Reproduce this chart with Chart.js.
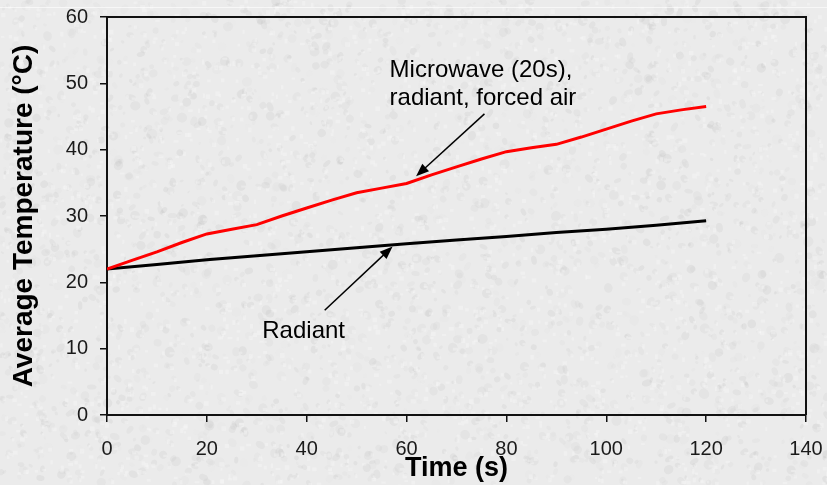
<!DOCTYPE html>
<html>
<head>
<meta charset="utf-8">
<script src="https://cdn.jsdelivr.net/npm/chart.js@4.4.1/dist/chart.umd.min.js"></script>
<style>
  html, body { margin: 0; padding: 0; background: #e6e6e6; }
  #wrap { position: relative; width: 827px; height: 485px; }
  #fondo, #grafico { position: absolute; left: 0; top: 0; }
</style>
</head>
<body>
<div id="wrap">
  <canvas id="fondo" width="827" height="485"></canvas>
  <canvas id="grafico" width="827" height="485"></canvas>
</div>
<script>
// Datos
const tiemposMicroondas = [0, 5, 10, 15, 20, 25, 30, 35, 40, 45, 50, 55, 60, 65, 70, 75, 80, 85, 90, 95, 100, 105, 110, 115, 120];
const tempMicroondas = [22.0, 23.3, 24.6, 26.0, 27.3, 28.0, 28.7, 30.0, 31.2, 32.4, 33.5, 34.2, 34.9, 36.2, 37.4, 38.6, 39.7, 40.3, 40.8, 41.9, 43.1, 44.3, 45.4, 46.0, 46.5];
const tiemposRadiante = [0, 10, 20, 30, 40, 50, 60, 70, 80, 90, 100, 110, 120];
const tempRadiante = [22.0, 22.7, 23.4, 24.0, 24.6, 25.2, 25.8, 26.4, 26.9, 27.5, 28.0, 28.6, 29.3];
const nombresSeries = ['Microwave (20s), radiant, forced air', 'Radiant'];
const tituloX = 'Time (s)';
const tituloY = 'Average Temperature (°C)';
const notaMicroondas = ['Microwave (20s),', 'radiant, forced air'];
const notaRadiante = 'Radiant';

// Fondo tipo granito (patrón determinista)
function pintarFondo() {
    var c = document.getElementById('fondo').getContext('2d');
    c.fillStyle = '#ebebeb';
    c.fillRect(0, 0, 827, 485);
    var s = 12345;
    function sig() { s = (s * 1103515245 + 12345) & 0x7fffffff; return s / 0x7fffffff; }
    for (var i = 0; i < 3200; i++) {
        var x = sig() * 827, y = sig() * 485, r = 1.5 + sig() * 3.5, g = Math.round(185 + sig() * 45);
        c.fillStyle = 'rgba(' + g + ',' + g + ',' + g + ',0.2)';
        c.beginPath();
        c.ellipse(x, y, r, r * (0.5 + sig() * 0.6), sig() * 3, 0, Math.PI * 2);
        c.fill();
    }
    for (var j = 0; j < 2500; j++) {
        var x2 = sig() * 827, y2 = sig() * 485;
        c.fillStyle = 'rgba(250,250,250,0.35)';
        c.fillRect(x2, y2, 2 + sig() * 3, 2 + sig() * 3);
    }
    // línea clara superior
    c.fillStyle = 'rgba(255,255,255,0.6)';
    c.fillRect(0, 7, 827, 1);
}
pintarFondo();

function flecha(ctx, x0, y0, x1, y1) {
    var ang = Math.atan2(y1 - y0, x1 - x0), L = 13, W = 5;
    ctx.beginPath();
    ctx.moveTo(x0, y0);
    ctx.lineTo(x1 - Math.cos(ang) * L * 0.8, y1 - Math.sin(ang) * L * 0.8);
    ctx.stroke();
    ctx.beginPath();
    ctx.moveTo(x1, y1);
    ctx.lineTo(x1 - Math.cos(ang) * L - Math.sin(ang) * W, y1 - Math.sin(ang) * L + Math.cos(ang) * W);
    ctx.lineTo(x1 - Math.cos(ang) * L + Math.sin(ang) * W, y1 - Math.sin(ang) * L - Math.cos(ang) * W);
    ctx.closePath();
    ctx.fill();
}

// Marco y anotaciones
const pluginNotas = {
    id: 'notas',
    afterDatasetsDraw(chart) {
        var ctx = chart.ctx, a = chart.chartArea, sx = chart.scales.x, sy = chart.scales.y;
        ctx.save();
        ctx.strokeStyle = '#111';
        ctx.lineWidth = 2;
        ctx.beginPath();
        ctx.moveTo(a.left, a.top);
        ctx.lineTo(a.right, a.top);
        ctx.lineTo(a.right, a.bottom);
        ctx.stroke();

        ctx.fillStyle = '#000';
        ctx.strokeStyle = '#000';
        ctx.lineWidth = 1.5;
        flecha(ctx, sx.getPixelForValue(75.6), sy.getPixelForValue(45.4), sx.getPixelForValue(61.9), sy.getPixelForValue(36.0));
        flecha(ctx, sx.getPixelForValue(43.6), sy.getPixelForValue(15.8), sx.getPixelForValue(57.2), sy.getPixelForValue(25.4));

        ctx.font = '24px "Liberation Sans", Arial, sans-serif';
        ctx.textAlign = 'left';
        ctx.textBaseline = 'alphabetic';
        ctx.fillText(notaMicroondas[0], sx.getPixelForValue(56.6), sy.getPixelForValue(51.0));
        ctx.fillText(notaMicroondas[1], sx.getPixelForValue(56.6), sy.getPixelForValue(46.7));
        ctx.fillText(notaRadiante, sx.getPixelForValue(31.1), sy.getPixelForValue(11.6));
        ctx.restore();
    }
};

var ctx = document.getElementById('grafico').getContext('2d');
new Chart(ctx, {
    type: 'line',
    data: {
        datasets: [{
            label: nombresSeries[0],
            data: tiemposMicroondas.map(function (t, i) { return { x: t, y: tempMicroondas[i] }; }),
            borderColor: '#ff0000',
            borderWidth: 3,
            pointRadius: 0,
            tension: 0
        }, {
            label: nombresSeries[1],
            data: tiemposRadiante.map(function (t, i) { return { x: t, y: tempRadiante[i] }; }),
            borderColor: '#000000',
            borderWidth: 3,
            pointRadius: 0,
            tension: 0
        }]
    },
    options: {
        responsive: false,
        animation: false,
        layout: { padding: { top: 17, right: 21, bottom: 0, left: 0 } },
        scales: {
            x: {
                type: 'linear',
                min: 0,
                max: 140,
                afterFit: function (scale) {
                    scale.height = 70;
                    scale.paddingLeft = 0;
                    scale.paddingRight = 0;
                },
                ticks: {
                    stepSize: 20,
                    padding: 15,
                    color: '#1a1a1a',
                    font: { family: '"Liberation Sans", Arial, sans-serif', size: 20 }
                },
                grid: { drawOnChartArea: false, drawTicks: true, tickLength: 7, color: '#111', lineWidth: 1.5 },
                border: { display: true, color: '#111', width: 2 },
                title: {
                    display: true,
                    text: tituloX,
                    color: '#000',
                    padding: { top: 0, bottom: 0 },
                    font: { family: '"Liberation Sans", Arial, sans-serif', size: 27, weight: 'bold' }
                }
            },
            y: {
                min: 0,
                max: 60,
                afterFit: function (scale) {
                    scale.width = 107;
                    scale.paddingTop = 0;
                    scale.paddingBottom = 0;
                },
                ticks: {
                    stepSize: 10,
                    padding: 12,
                    color: '#1a1a1a',
                    font: { family: '"Liberation Sans", Arial, sans-serif', size: 20 }
                },
                grid: { drawOnChartArea: false, drawTicks: true, tickLength: 7, color: '#111', lineWidth: 1.5 },
                border: { display: true, color: '#111', width: 2 },
                title: {
                    display: true,
                    text: tituloY,
                    color: '#000',
                    padding: { top: 7, bottom: 0 },
                    font: { family: '"Liberation Sans", Arial, sans-serif', size: 28, weight: 'bold' }
                }
            }
        },
        plugins: {
            legend: { display: false },
            tooltip: { enabled: false }
        }
    },
    plugins: [pluginNotas]
});
</script>
</body>
</html>
